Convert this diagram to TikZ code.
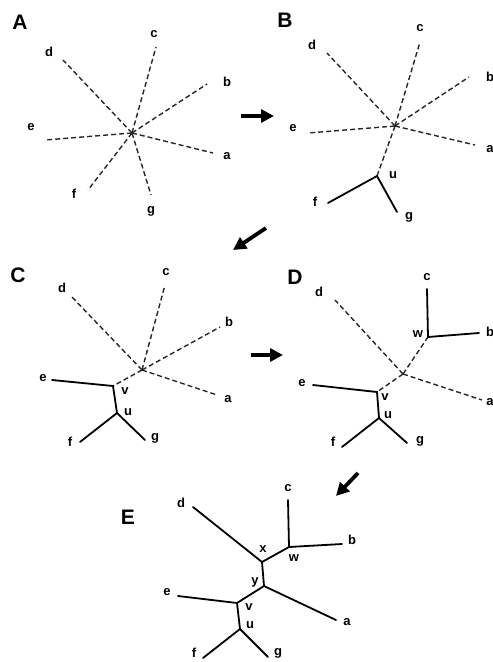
\documentclass[tikz,border=0pt]{standalone}
\usepackage{fontspec}
\setmainfont{Liberation Sans}
\usetikzlibrary{arrows.meta}
\tikzset{
  lbl/.style={inner sep=0pt, font=\bfseries\fontsize{13}{15}\selectfont},
  panel/.style={inner sep=0pt, font=\bfseries\fontsize{21}{23}\selectfont},
  dline/.style={line width=1.4pt, dash pattern=on 5pt off 3pt, black!85},
  sline/.style={line width=1.8pt, line cap=round},
  parrow/.style={line width=3.8pt, -{Triangle[length=13pt,width=13pt]}},
}
\begin{document}
\begin{tikzpicture}[x=1pt,y=-1pt]
\useasboundingbox (0,0) rectangle (493,662);
% ---------------- Panel A ----------------
\node[panel] (LA) at (20,22) {A};
\coordinate (Ao) at (132,133);
\coordinate (Ad) at (63,60);  \node[lbl] (Ald) at (49,52) {d};
\coordinate (Ac) at (156,47); \node[lbl] (Alc) at (154,34) {c};
\coordinate (Ab) at (207,84); \node[lbl] (Alb) at (227,82) {b};
\coordinate (Ae) at (45,140); \node[lbl] (Ale) at (31,127) {e};
\coordinate (Aa) at (213,153);\node[lbl] (Ala) at (227,156) {a};
\coordinate (Af) at (88,190); \node[lbl] (Alf) at (74,194) {f};
\coordinate (Ag) at (151,195);\node[lbl] (Alg) at (151,211) {g};
\foreach \t in {Ad,Ac,Ab,Ae,Aa,Af,Ag} \draw[dline] (Ao) -- (\t);
% ---------------- Panel B ----------------
\node[panel] (LB) at (285,20) {B};
\coordinate (Bo) at (395,126);
\coordinate (Bd) at (327,53);  \node[lbl] (Bld) at (312,45) {d};
\coordinate (Bc) at (420,42);  \node[lbl] (Blc) at (420,28) {c};
\coordinate (Bb) at (469,77);  \node[lbl] (Blb) at (490,77) {b};
\coordinate (Be) at (308,133); \node[lbl] (Ble) at (293,128) {e};
\coordinate (Ba) at (475,145); \node[lbl] (Bla) at (490,149) {a};
\coordinate (Bu) at (377,176); \node[lbl] (Blu) at (393,175) {u};
\coordinate (Bf) at (328,203); \node[lbl] (Blf) at (315,202) {f};
\coordinate (Bg) at (397,212); \node[lbl] (Blg) at (409,217) {g};
\foreach \t in {Bd,Bc,Bb,Be,Ba,Bu} \draw[dline] (Bo) -- (\t);
\draw[sline] (Bf) -- (Bu) -- (Bg);
% ---------------- Panel C ----------------
\node[panel] (LC) at (18,275) {C};
\coordinate (Co) at (142,370);
\coordinate (Cd) at (72,297);  \node[lbl] (Cld) at (62,288) {d};
\coordinate (Cc) at (165,285); \node[lbl] (Clc) at (166,272) {c};
\coordinate (Cb) at (220,327); \node[lbl] (Clb) at (229,322) {b};
\coordinate (Ca) at (217,395); \node[lbl] (Cla) at (228,399) {a};
\coordinate (Cv) at (113,386); \node[lbl] (Clv) at (125,391) {v};
\coordinate (Ce) at (52,380);  \node[lbl] (Cle) at (43,378) {e};
\coordinate (Cu) at (117,413); \node[lbl] (Clu) at (128,412) {u};
\coordinate (Cf) at (80,442);  \node[lbl] (Clf) at (70,442) {f};
\coordinate (Cg) at (145,440); \node[lbl] (Clg) at (155,438) {g};
\foreach \t in {Cd,Cc,Cb,Ca,Cv} \draw[dline] (Co) -- (\t);
\draw[sline] (Ce) -- (Cv) -- (Cu);
\draw[sline] (Cf) -- (Cu) -- (Cg);
% ---------------- Panel D ----------------
\node[panel] (LD) at (295,277) {D};
\coordinate (Do) at (403,374);
\coordinate (Dd) at (335,300); \node[lbl] (Dld) at (319,292) {d};
\coordinate (Dw) at (428,337); \node[lbl] (Dlw) at (418,334) {w};
\coordinate (Dc) at (427,289); \node[lbl] (Dlc) at (427,277) {c};
\coordinate (Db) at (479,333); \node[lbl] (Dlb) at (490,332) {b};
\coordinate (Da) at (482,400); \node[lbl] (Dla) at (490,402) {a};
\coordinate (Dv) at (377,392); \node[lbl] (Dlv) at (385,397) {v};
\coordinate (De) at (313,385); \node[lbl] (Dle) at (302,383) {e};
\coordinate (Du) at (379,418); \node[lbl] (Dlu) at (388,415) {u};
\coordinate (Df) at (342,447); \node[lbl] (Dlf) at (333,442) {f};
\coordinate (Dg) at (407,443); \node[lbl] (Dlg) at (420,441) {g};
\foreach \t in {Dd,Dw,Da,Dv} \draw[dline] (Do) -- (\t);
\draw[sline] (Dc) -- (Dw) -- (Db);
\draw[sline] (De) -- (Dv) -- (Du);
\draw[sline] (Df) -- (Du) -- (Dg);
% ---------------- Panel E ----------------
\node[panel] (LE) at (128,517) {E};
\coordinate (Ex) at (262,562); \node[lbl] (Elx) at (263,549) {x};
\coordinate (Ew) at (289,547); \node[lbl] (Elw) at (294,558) {w};
\coordinate (Ey) at (264,586); \node[lbl] (Ely) at (255,582) {y};
\coordinate (Ev) at (237,603); \node[lbl] (Elv) at (249,607) {v};
\coordinate (Eu) at (240,629); \node[lbl] (Elu) at (250,625) {u};
\coordinate (Ed) at (193,507); \node[lbl] (Eld) at (181,503) {d};
\coordinate (Ec) at (288,500); \node[lbl] (Elc) at (288,488) {c};
\coordinate (Eb) at (342,544); \node[lbl] (Elb) at (352,540) {b};
\coordinate (Ea) at (336,620); \node[lbl] (Ela) at (347,622) {a};
\coordinate (Ee) at (178,596); \node[lbl] (Ele) at (167,592) {e};
\coordinate (Ef) at (203,658); \node[lbl] (Elf) at (194,653) {f};
\coordinate (Eg) at (268,657); \node[lbl] (Elg) at (278,653) {g};
\draw[sline] (Ed) -- (Ex) -- (Ew) -- (Ec);
\draw[sline] (Ew) -- (Eb);
\draw[sline] (Ex) -- (Ey) -- (Ea);
\draw[sline] (Ey) -- (Ev) -- (Ee);
\draw[sline] (Ev) -- (Eu) -- (Ef);
\draw[sline] (Eu) -- (Eg);
% ---------------- arrows between panels ----------------
\coordinate (AB1) at (241,116); \coordinate (AB2) at (274,116);
\coordinate (BC1) at (266,228); \coordinate (BC2) at (233,250);
\coordinate (CD1) at (251,355); \coordinate (CD2) at (283,355);
\coordinate (DE1) at (358,473); \coordinate (DE2) at (336,496);
\draw[parrow] (AB1) -- (AB2);
\draw[parrow] (BC1) -- (BC2);
\draw[parrow] (CD1) -- (CD2);
\draw[parrow] (DE1) -- (DE2);
\end{tikzpicture}
\end{document}
